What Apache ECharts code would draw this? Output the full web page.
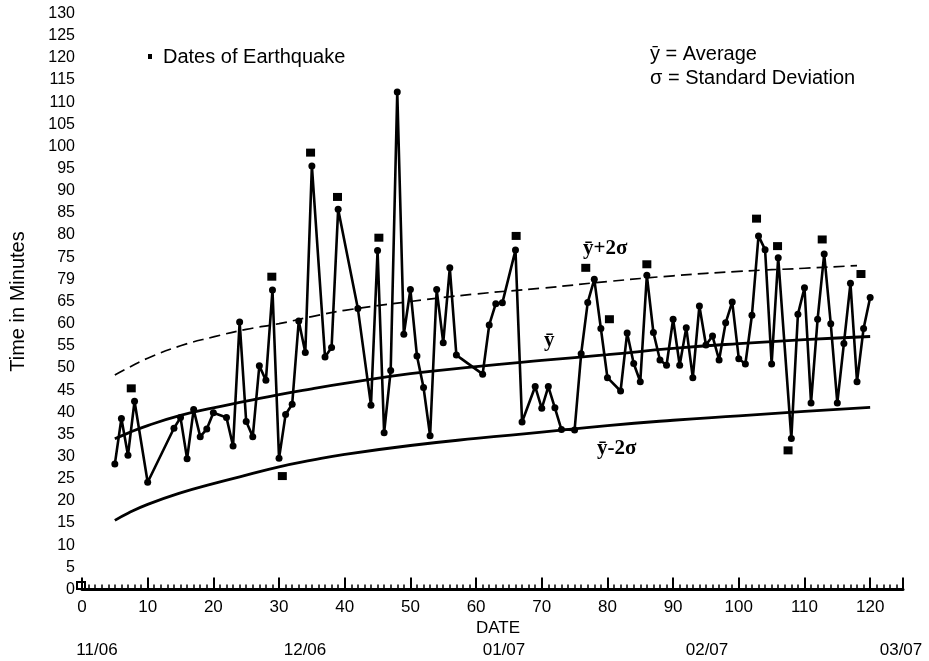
<!DOCTYPE html>
<html>
<head>
<meta charset="utf-8">
<script src="https://cdn.jsdelivr.net/npm/echarts@6/dist/echarts.min.js"></script>
<style>
html,body{margin:0;padding:0;background:#fff;}
#main{width:929px;height:661px;}
</style>
</head>
<body>
<div id="main"></div>
<script>
// ---- data ----
const days = [5,6,7,8,10,14,15,16,17,18,19,20,22,23,24,25,26,27,28,29,30,31,32,33,34,35,37,38,39,42,44,45,46,47,48,49,50,51,52,53,54,55,56,57,61,62,63,64,66,67,69,70,71,72,73,75,76,77,78,79,80,82,83,84,85,86,87,88,89,90,91,92,93,94,95,96,97,98,99,100,101,102,103,104,105,106,108,109,110,111,112,113,114,115,116,117,118,119,120];
const times = [28.3,38.6,30.3,42.5,24.2,36.4,38.8,29.5,40.6,34.5,36.2,39.9,38.8,32.4,60.4,37.9,34.5,50.5,47.2,67.6,29.6,39.5,41.8,60.6,53.5,95.6,52.5,54.6,85.8,63.4,41.6,76.5,35.4,49.4,112.3,57.6,67.7,52.7,45.6,34.7,67.7,55.7,72.6,52.9,48.6,59.7,64.5,64.7,76.6,37.8,45.8,40.9,45.8,41.0,36.1,36.0,53.2,64.8,70.0,58.9,47.8,44.8,57.9,51.0,46.9,70.9,58.0,51.8,50.6,61.0,50.6,59.1,47.8,64.0,55.2,57.2,51.8,60.2,64.9,52.1,50.9,61.9,79.8,76.7,50.9,74.9,34.1,62.1,68.1,42.1,61.0,75.7,60.0,42.1,55.5,69.1,46.9,58.9,65.9];

const quakeDays  = [7.5,28.9,30.5,34.8,38.9,45.2,66.1,76.7,80.3,86.0,102.7,105.9,107.5,112.7,118.6];
const quakeTimes = [45.4,70.6,25.6,98.6,88.6,79.4,79.8,72.6,61.0,73.4,83.7,77.5,31.4,79.0,71.2];

const curveDays   = [5,7,10,15,20,25,30,35,40,50,60,70,80,90,100,110,120];
const avgValues   = [34.0,35.3,37.0,39.3,41.0,42.5,44.0,45.3,46.5,48.7,50.3,51.7,53.0,54.4,55.5,56.4,57.1];
const lowerValues = [15.6,17.2,19.2,21.8,23.9,25.8,27.7,29.2,30.5,32.5,34.1,35.5,37.0,38.2,39.2,40.2,41.1];
const upperDays   = [5,7,10,15,20,25,30,35,40,50,60,70,80,90,100,110,118];
const upperValues = [48.4,50.0,52.2,55.0,57.0,58.7,60.0,61.6,63.0,65.0,66.7,68.0,69.5,70.8,71.8,72.5,73.1];

const yTickLabels = ['0','5','10','15','20','25','30','35','40','45','50','55','60','65','79','75','80','85','90','95','100','105','110','115','120','125','130'];
const monthLabels = ['11/06','12/06','01/07','02/07','03/07'];

const zip = (a,b) => a.map((v,i) => [v, b[i]]);

const chart = echarts.init(document.getElementById('main'), null, {renderer:'canvas'});
const FONT = '"Liberation Sans", Arial, Helvetica, sans-serif';
const SERIF = '"Liberation Serif", "DejaVu Serif", serif';

const monthX = [97, 305, 504, 707, 901];

const option = {
  animation: false,
  backgroundColor: '#fff',
  grid: {left: 80, top: 13.5, width: 823, height: 576},
  xAxis: {
    type: 'value', min: 0, max: 125, interval: 10,
    axisLine: {show: true, onZero: false, lineStyle: {color: '#000', width: 3}},
    axisTick: {show: true, inside: true, length: 12, lineStyle: {color: '#000', width: 2}},
    minorTick: {show: true, splitNumber: 10, length: 5, lineStyle: {color: '#000', width: 1.5}},
    splitLine: {show: false},
    axisLabel: {color: '#000', fontSize: 17, fontFamily: FONT, margin: 9,
      formatter: v => (v <= 120 ? String(v) : '')}
  },
  yAxis: {
    type: 'value', min: 0, max: 130, interval: 5,
    name: 'Time in Minutes', nameLocation: 'middle', nameRotate: 90, nameGap: 54,
    nameTextStyle: {color: '#000', fontSize: 20, fontFamily: FONT},
    axisLine: {show: false}, axisTick: {show: false}, splitLine: {show: false},
    axisLabel: {color: '#000', fontSize: 16, fontFamily: FONT, margin: 7,
      formatter: v => yTickLabels[Math.round(v/5)]}
  },
  series: [
    {type: 'line', data: zip(upperDays, upperValues), smooth: true, symbol: 'none',
      lineStyle: {color: '#000', width: 1.7, type: [11, 6]}, z: 2},
    {type: 'line', data: zip(curveDays, avgValues), smooth: true, symbol: 'none',
      lineStyle: {color: '#000', width: 2.8}, z: 2},
    {type: 'line', data: zip(curveDays, lowerValues), smooth: true, symbol: 'none',
      lineStyle: {color: '#000', width: 2.8}, z: 2},
    {type: 'line', data: zip(days, times), symbol: 'circle', symbolSize: 7,
      itemStyle: {color: '#000', opacity: 1}, lineStyle: {color: '#000', width: 2.6}, z: 3},
    {type: 'scatter', data: zip(quakeDays, quakeTimes), symbol: 'rect', symbolSize: [9, 8],
      itemStyle: {color: '#000', opacity: 1}, z: 4}
  ],
  graphic: [
    {type: 'rect', shape: {x: 148, y: 54, width: 4, height: 5}, style: {fill: '#000'}},
    {type: 'text', style: {text: 'Dates of Earthquake', x: 163, y: 57, font: '20px ' + FONT, fill: '#000', textVerticalAlign: 'middle'}},
    {type: 'text', style: {text: 'ȳ = Average', x: 650, y: 54, font: '20px ' + FONT, fill: '#000', textVerticalAlign: 'middle'}},
    {type: 'text', style: {text: 'σ = Standard Deviation', x: 650, y: 78, font: '20px ' + FONT, fill: '#000', textVerticalAlign: 'middle'}},
    {type: 'text', style: {text: 'ȳ+2σ', x: 583, y: 249, font: 'bold 21px ' + SERIF, fill: '#000', textVerticalAlign: 'middle'}},
    {type: 'text', style: {text: 'ȳ', x: 544, y: 341, font: 'bold 21px ' + SERIF, fill: '#000', textVerticalAlign: 'middle'}},
    {type: 'text', style: {text: 'ȳ-2σ', x: 597, y: 449, font: 'bold 21px ' + SERIF, fill: '#000', textVerticalAlign: 'middle'}},
    {type: 'text', style: {text: 'DATE', x: 498, y: 628, font: '17px ' + FONT, fill: '#000', textAlign: 'center', textVerticalAlign: 'middle'}},
    {type: 'rect', shape: {x: 77, y: 582, width: 8, height: 7}, style: {fill: '#fff', stroke: '#000', lineWidth: 2}}
  ].concat(monthLabels.map((m, i) => ({
    type: 'text', style: {text: m, x: monthX[i], y: 650, font: '17px ' + FONT, fill: '#000', textAlign: 'center', textVerticalAlign: 'middle'}
  })))
};
chart.setOption(option);
</script>
</body>
</html>
